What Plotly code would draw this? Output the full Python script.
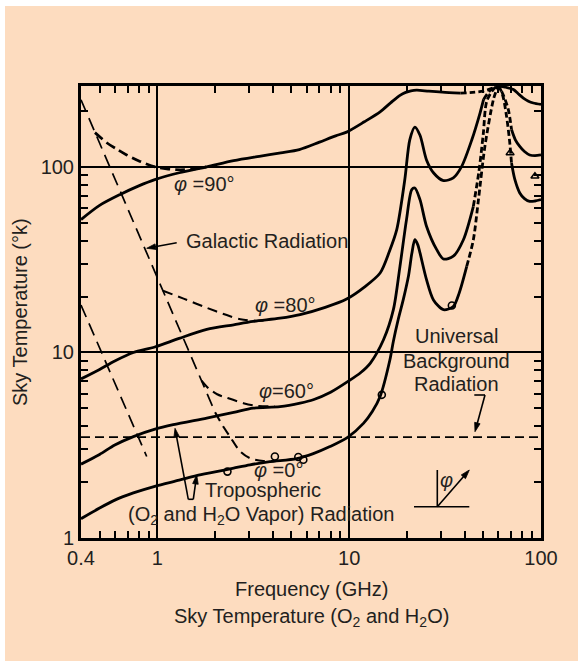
import math
import plotly.graph_objects as go

# ---------------- data (frequency in GHz, sky temperature in K) ----------------
# Tropospheric sky temperature, phi = 90 deg
phi90_f = [0.4, 0.5, 0.64, 0.8, 0.97, 1.3, 1.81, 2.5, 3.4, 4.4, 5.5, 7.0, 8.5, 9.7,
           12.0, 14.5, 16.5, 18.4, 19.7, 21.0, 22.5, 26.0, 30.6, 38.0]
phi90_T = [52, 62, 71, 79, 85.4, 93, 100, 108, 114, 119, 124, 136, 147, 154,
           175, 198, 222, 243, 252, 257, 259, 256, 253, 250]
phi90_o2_f = [38.0, 44.0, 50.0, 55.0, 59.7]
phi90_o2_T = [250, 252, 256, 264, 273]
phi90_hi_f = [59.7, 65.0, 71.8, 76.0, 80.9, 86.0, 91.2, 100.0]
phi90_hi_T = [273, 269, 261, 248, 235, 226, 221, 217]

# phi = 80 deg
phi80_f = [0.4, 0.5, 0.6, 0.75, 0.97, 1.3, 1.81, 2.5, 3.16, 4.36, 5.55, 7.5, 9.7,
           12.0, 14.5, 16.2, 17.7, 19.5, 20.7, 22.0, 23.4, 25.3, 27.5, 31.0, 34.9,
           38.6, 43.6, 48.1, 50.2]
phi80_T = [7.2, 8.1, 9.0, 10.0, 10.7, 11.9, 13.3, 14.1, 14.7, 15.3, 16.0, 17.5, 19.4,
           22.5, 26.8, 35.0, 45.9, 85.5, 140, 164, 148, 109, 93, 84.4, 87.3,
           100.7, 140, 195, 231]
phi80_o2_f = [50.2, 55.0, 59.7, 64.0, 67.6, 70.2]
phi80_o2_T = [231, 262, 273, 240, 203, 159]
phi80_hi_f = [70.2, 73.5, 77.5, 82.0, 87.3, 93.0, 100.0]
phi80_hi_T = [159, 140, 129, 121, 116, 115, 116]

# phi = 60 deg
phi60_f = [0.4, 0.5, 0.6, 0.75, 0.973, 1.21, 1.81, 2.5, 3.16, 4.36, 5.55, 6.5, 8.0,
           9.86, 11.5, 12.9, 15.1, 17.0, 18.4, 19.9, 21.2, 22.0, 23.4, 25.3, 28.6,
           31.0, 34.9, 39.4, 44.4]
phi60_T = [2.5, 2.82, 3.17, 3.52, 3.86, 4.08, 4.43, 4.75, 5.01, 5.1, 5.33, 5.56, 6.1,
           6.98, 7.8, 8.77, 11.7, 17.0, 29.1, 52, 75.5, 77, 66.6, 47.9, 35.8,
           31.9, 33.0, 40.5, 61.3]
phi60_o2_f = [44.4, 47.5, 50.0, 52.1, 56.5, 59.7, 63.0, 66.0, 68.5, 70.2]
phi60_o2_T = [61.3, 95, 150, 225, 262, 273, 245, 190, 140, 105]
phi60_hi_f = [70.2, 73.1, 77.5, 82.0, 87.3, 93.0, 100.0]
phi60_hi_T = [105, 85.3, 72.4, 67.5, 65.2, 65.5, 66.6]

# phi = 0 deg
phi0_f = [0.4, 0.5, 0.6, 0.75, 0.97, 1.3, 1.6, 2.0, 2.5, 3.04, 3.86, 5.33, 6.5, 7.94,
          9.86, 11.9, 13.2, 14.5, 16.3, 17.0, 18.0, 19.2, 20.4, 21.2, 22.0, 22.8,
          23.4, 25.3, 27.5, 31.0, 34.9, 37.5, 41.0]
phi0_T = [1.27, 1.45, 1.6, 1.75, 1.9, 2.05, 2.17, 2.27, 2.38, 2.48, 2.58, 2.68, 2.85, 3.11,
          3.5, 4.16, 4.8, 5.79, 9.1, 11.5, 15.0, 19.5, 26.0, 34.0, 40.5, 38.0,
          34.4, 24.7, 19.2, 17.0, 17.7, 21.0, 29.1]
phi0_o2_f = [41.0, 44.4, 47.2, 51.0, 56.5, 59.7]
phi0_o2_T = [29.1, 40.5, 66.6, 129, 231, 273]

# Galactic radiation: straight lines and their sums with the tropospheric curves
galA_f = [0.4, 2.0]
galA_T = [230, 4.76]
galB_f = [0.4, 0.88]
galB_T = [18.0, 2.75]
gal90_f = [0.473, 0.545, 0.62, 0.692, 0.813, 0.973, 1.12, 1.32, 1.55, 1.8]
gal90_T = [153, 135, 124, 116, 107, 100, 97.5, 96.5, 97.5, 100]
gal80_f = [1.07, 1.37, 1.81, 2.3, 2.71, 3.3, 3.86]
gal80_T = [21.5, 19.5, 17.4, 15.9, 15.1, 14.8, 15.0]
gal60_f = [1.7, 1.85, 2.05, 2.3, 2.81, 3.3, 4.1]
gal60_T = [7.05, 6.4, 5.95, 5.7, 5.33, 5.15, 5.12]
gal0_f = [2.0, 2.2, 2.39, 2.7, 3.04, 3.57, 4.1]
gal0_T = [4.76, 4.0, 3.52, 2.93, 2.69, 2.6, 2.6]

# Universal background radiation level
ubg_f = [0.4, 100.0]
ubg_T = [3.5, 3.5]

# Measured points
meas_circ_f = [2.32, 4.1, 5.43, 5.77, 14.8, 34.3]
meas_circ_T = [2.28, 2.75, 2.73, 2.64, 5.91, 17.9]
meas_tri_f = [69.0, 93.0]
meas_tri_T = [119, 89]

# Axis ticks
x_major = [0.4, 1, 10, 100]
x_major_text = ["0.4", "1", "10", "100"]
x_minor = [0.5, 0.6, 0.7, 0.8, 0.9, 2, 3, 4, 5, 6, 7, 8, 9,
           20, 30, 40, 50, 60, 70, 80, 90]
y_major = [1, 10, 100]
y_major_text = ["1", "10", "100"]
y_minor = [2, 3, 4, 5, 6, 7, 8, 9, 20, 30, 40, 50, 60, 70, 80, 90, 200]

# ---------------- styling ----------------
INK = "#231f20"
PEACH = "#fddcbf"
FONT = "Liberation Sans, Arial, sans-serif"

W, H = 578, 662
ML, MR, MT, MB = 81, 37, 86, 124
PW, PH = W - ML - MR, H - MT - MB


def px(x):
    return (x - ML) / PW


def py(y):
    return (H - MB - y) / PH


fig = go.Figure()


def curve(f, t, width=2.8, dash="solid"):
    fig.add_trace(go.Scatter(
        x=f, y=t, mode="lines",
        line=dict(color="black", width=width, dash=dash, shape="spline", smoothing=0.8),
        hoverinfo="skip", showlegend=False))


O2DASH = "6px,3px"
for f, t in [(phi90_f, phi90_T), (phi90_hi_f, phi90_hi_T),
             (phi80_f, phi80_T), (phi80_hi_f, phi80_hi_T),
             (phi60_f, phi60_T), (phi60_hi_f, phi60_hi_T),
             (phi0_f, phi0_T)]:
    curve(f, t)
for f, t in [(phi90_o2_f, phi90_o2_T), (phi80_o2_f, phi80_o2_T),
             (phi60_o2_f, phi60_o2_T), (phi0_o2_f, phi0_o2_T)]:
    curve(f, t, width=2.8, dash=O2DASH)

# galactic contributions
curve(galA_f, galA_T, width=1.7, dash="13px,7px")
curve(galB_f, galB_T, width=1.7, dash="13px,7px")
curve(gal90_f, gal90_T, width=2.7, dash="10px,5px")
curve(gal80_f, gal80_T, width=2.1, dash="10px,6px")
curve(gal60_f, gal60_T, width=2.1, dash="10px,6px")
curve(gal0_f, gal0_T, width=2.1, dash="10px,6px")

# universal background
fig.add_trace(go.Scatter(x=ubg_f, y=ubg_T, mode="lines",
                         line=dict(color="black", width=1.8, dash="9px,5px"),
                         hoverinfo="skip", showlegend=False))

# measured points
fig.add_trace(go.Scatter(x=meas_circ_f, y=meas_circ_T, mode="markers",
                         marker=dict(symbol="circle-open", size=7, color="black",
                                     line=dict(width=1.6)),
                         hoverinfo="skip", showlegend=False))
fig.add_trace(go.Scatter(x=meas_tri_f, y=meas_tri_T, mode="markers",
                         marker=dict(symbol="triangle-up-open", size=7, color="black",
                                     line=dict(width=1.5)),
                         hoverinfo="skip", showlegend=False))

# ---------------- axes ----------------
axis_common = dict(
    type="log", showline=True, linecolor="black", linewidth=3, mirror="allticks",
    ticks="", showgrid=True, gridcolor="black", gridwidth=1.8, zeroline=False,
    tickfont=dict(family=FONT, size=20, color=INK),
)
fig.update_xaxes(
    range=[-0.39794, 2.0], tickvals=x_major, ticktext=x_major_text,
    minor=dict(tickvals=x_minor, ticks="inside", ticklen=7, tickwidth=1.5,
               tickcolor="black", showgrid=False),
    **axis_common)
fig.update_yaxes(
    range=[0.0, 2.436], tickvals=y_major, ticktext=y_major_text,
    minor=dict(tickvals=y_minor, ticks="inside", ticklen=7, tickwidth=1.5,
               tickcolor="black", showgrid=False),
    **axis_common)

# ---------------- text ----------------
ann = []


def label(text, x, y, xanchor="left", size=20, angle=0):
    ann.append(dict(text=text, x=px(x), y=py(y), xref="paper", yref="paper",
                    xanchor=xanchor, yanchor="middle", showarrow=False,
                    textangle=angle, font=dict(family=FONT, size=size, color=INK)))


label("<i>φ</i> =90°", 171.7, 184)
label("<i>φ</i> =80°", 253.3, 305)
label("<i>φ</i>=60°", 256.7, 391)
label("<i>φ</i> =0°", 251.7, 470)
label("Galactic Radiation", 184, 241)
label("Tropospheric", 203.3, 490)
label("(O<sub>2</sub> and H<sub>2</sub>O Vapor) Radiation", 260.5, 515, xanchor="center")
label("Universal", 456, 336, xanchor="center")
label("Background", 456, 361, xanchor="center")
label("Radiation", 456, 384, xanchor="center")
label("<i>φ</i>", 446, 480, xanchor="center")
label("Frequency (GHz)", 311, 589, xanchor="center")
label("Sky Temperature (O<sub>2</sub> and H<sub>2</sub>O)", 311, 617, xanchor="center")
label("Sky Temperature (°k)", 20, 312, xanchor="center", angle=-90)

# ---------------- leader lines and arrowheads ----------------
shapes = [
    # page panel
    dict(type="rect", xref="paper", yref="paper", x0=px(5), x1=px(578), y0=py(661),
         y1=py(6), fillcolor=PEACH, line=dict(width=0), layer="below"),
]


def seg(x0, y0, x1, y1, width=1.6):
    shapes.append(dict(type="line", xref="paper", yref="paper",
                       x0=px(x0), y0=py(y0), x1=px(x1), y1=py(y1),
                       line=dict(color="black", width=width)))


def arrow(hx, hy, tx, ty, length=9.0, half=2.8):
    """Leader from tail (tx, ty) to head (hx, hy), pixel positions, filled head."""
    dx, dy = hx - tx, hy - ty
    n = math.hypot(dx, dy)
    ux, uy = dx / n, dy / n
    bx, by = hx - ux * length, hy - uy * length
    seg(tx, ty, bx + ux * 2, by + uy * 2)
    p1 = (bx - uy * half, by + ux * half)
    p2 = (bx + uy * half, by - ux * half)
    path = "M {:.5f},{:.5f} L {:.5f},{:.5f} L {:.5f},{:.5f} Z".format(
        px(hx), py(hy), px(p1[0]), py(p1[1]), px(p2[0]), py(p2[1]))
    shapes.append(dict(type="path", xref="paper", yref="paper", path=path,
                       fillcolor="black", line=dict(color="black", width=0.8)))


arrow(146.7, 248.3, 176.7, 242.7)     # galactic
arrow(175.0, 428.3, 188.3, 499.3)     # tropospheric -> phi 60
arrow(196.7, 475.0, 193.3, 499.3)     # tropospheric -> phi 0
seg(188.3, 499.3, 193.3, 499.3)
arrow(475.0, 431.7, 485.0, 395.0)     # universal background
seg(474.3, 395.0, 485.0, 395.0)
# elevation-angle symbol
seg(437.3, 470.0, 437.3, 506.7)
seg(414.0, 506.7, 469.3, 506.7)
arrow(469.3, 470.0, 437.3, 506.7)

fig.update_layout(
    width=W, height=H, margin=dict(l=ML, r=MR, t=MT, b=MB, pad=0),
    paper_bgcolor="white", plot_bgcolor="rgba(0,0,0,0)",
    annotations=ann, shapes=shapes, showlegend=False,
    font=dict(family=FONT, color=INK),
)

fig.write_html("out.html")
